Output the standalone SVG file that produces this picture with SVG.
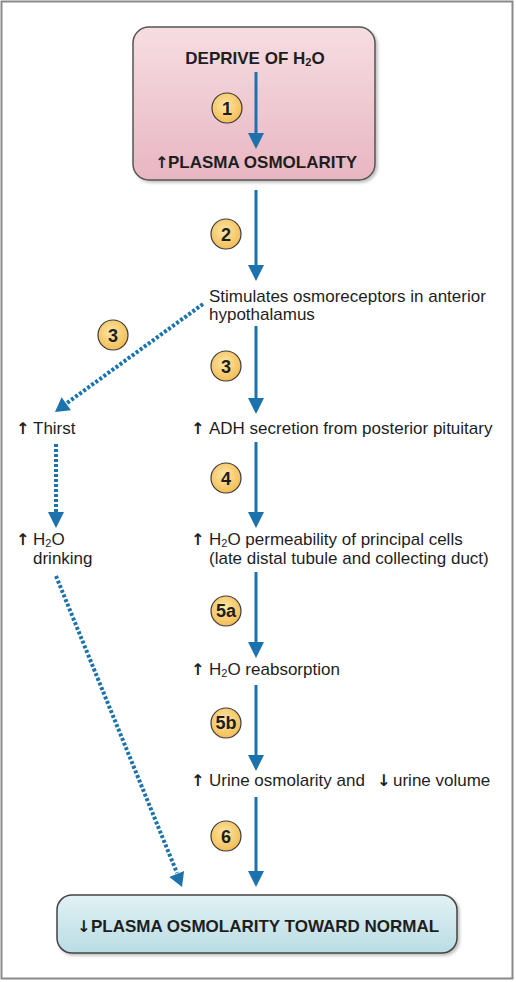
<svg xmlns="http://www.w3.org/2000/svg" width="516" height="982" viewBox="0 0 516 982">
<defs>
<linearGradient id="pink" x1="0" y1="0" x2="0" y2="1">
<stop offset="0" stop-color="#f6dde2"/><stop offset="1" stop-color="#e8b6c2"/>
</linearGradient>
<linearGradient id="teal" x1="0" y1="0" x2="0" y2="1">
<stop offset="0" stop-color="#e2f1f4"/><stop offset="1" stop-color="#b9dde4"/>
</linearGradient>
<radialGradient id="ball" cx="0.45" cy="0.4" r="0.6">
<stop offset="0" stop-color="#fde7a6"/><stop offset="1" stop-color="#f4bd55"/>
</radialGradient>
<filter id="sh" x="-5%" y="-5%" width="115%" height="120%">
<feDropShadow dx="2" dy="2" stdDeviation="1.5" flood-color="#000" flood-opacity="0.25"/>
</filter>
</defs>
<style>
.t{font-family:"Liberation Sans",Arial,sans-serif;font-size:17px;fill:#1e1e1e}
.b{font-family:"Liberation Sans",Arial,sans-serif;font-size:17px;font-weight:bold;fill:#1e1e1e}
.n{font-family:"Liberation Sans",Arial,sans-serif;font-size:18px;font-weight:bold;fill:#1e1e1e;text-anchor:middle}
.ar{font-family:"DejaVu Sans",sans-serif;font-size:16px;font-weight:bold;fill:#1e1e1e}
.solid{stroke:#1b72ad;stroke-width:3;fill:none}
.dot{stroke:#1b72ad;stroke-width:4;fill:none;stroke-dasharray:3 2}
.hd{fill:#1b72ad}
.c{fill:url(#ball);stroke:#3a3a3a;stroke-width:1.2}
</style>
<rect x="1.5" y="1.5" width="511" height="977" fill="#fff" stroke="#8a8a8a" stroke-width="2"/>

<g id="n1">
<rect x="133" y="27" width="242" height="153" rx="16" fill="url(#pink)" stroke="#555" stroke-width="1.5" filter="url(#sh)"/>
<text class="b" x="255" y="64" text-anchor="middle">DEPRIVE OF H<tspan font-size="11" dy="2">2</tspan><tspan dy="-2">O</tspan></text>
<text class="ar" x="155" y="168">↑</text>
<text class="b" x="168" y="168">PLASMA OSMOLARITY</text>
</g>

<g id="n2">
<text class="t" x="209" y="302">Stimulates osmoreceptors in anterior</text>
<text class="t" x="209" y="320">hypothalamus</text>
</g>

<g id="n3">
<text class="ar" x="16" y="434">↑</text>
<text class="t" x="33" y="434">Thirst</text>
</g>
<g id="n4">
<text class="ar" x="191" y="434">↑</text>
<text class="t" x="209" y="434">ADH secretion from posterior pituitary</text>
</g>

<g id="n5">
<text class="ar" x="16" y="545">↑</text>
<text class="t" x="33" y="545">H<tspan font-size="11" dy="2">2</tspan><tspan dy="-2">O</tspan></text>
<text class="t" x="33" y="564">drinking</text>
</g>
<g id="n6">
<text class="ar" x="191" y="545">↑</text>
<text class="t" x="209" y="545">H<tspan font-size="11" dy="2">2</tspan><tspan dy="-2">O permeability of principal cells</tspan></text>
<text class="t" x="209" y="564">(late distal tubule and collecting duct)</text>
</g>

<g id="n7">
<text class="ar" x="191" y="675">↑</text>
<text class="t" x="209" y="675">H<tspan font-size="11" dy="2">2</tspan><tspan dy="-2">O reabsorption</tspan></text>
</g>

<g id="n8">
<text class="ar" x="191" y="786">↑</text>
<text class="t" x="209" y="786">Urine osmolarity and</text>
<text class="ar" x="377" y="786">↓</text>
<text class="t" x="393" y="786">urine volume</text>
</g>

<g id="n9">
<rect x="57" y="895" width="400" height="58" rx="15" fill="url(#teal)" stroke="#444" stroke-width="1.5" filter="url(#sh)"/>
<text class="ar" x="77" y="932">↓</text>
<text class="b" x="91" y="932">PLASMA OSMOLARITY TOWARD NORMAL</text>
</g>

<g id="connectors">
<line class="solid" x1="256" y1="72" x2="256" y2="134"/>
<path class="hd" d="M248,133 L264,133 L256,149 Z"/>
<line class="solid" x1="256" y1="190" x2="256" y2="266"/>
<path class="hd" d="M248,265 L264,265 L256,281 Z"/>
<line class="solid" x1="256" y1="326" x2="256" y2="399"/>
<path class="hd" d="M248,398 L264,398 L256,414 Z"/>
<line class="solid" x1="256" y1="442" x2="256" y2="513"/>
<path class="hd" d="M248,512 L264,512 L256,528 Z"/>
<line class="solid" x1="256" y1="572" x2="256" y2="643"/>
<path class="hd" d="M248,642 L264,642 L256,658 Z"/>
<line class="solid" x1="256" y1="685" x2="256" y2="756"/>
<path class="hd" d="M248,755 L264,755 L256,771 Z"/>
<line class="solid" x1="256" y1="797" x2="256" y2="872"/>
<path class="hd" d="M248,871 L264,871 L256,887 Z"/>
<line class="dot" x1="203" y1="304" x2="67" y2="403"/>
<path class="hd" d="M55,412 L71,410.2 L61.6,397.2 Z"/>
<line class="dot" x1="56" y1="444" x2="56" y2="513"/>
<path class="hd" d="M48,512 L64,512 L56,528 Z"/>
<line class="dot" x1="56" y1="576" x2="177" y2="873"/>
<path class="hd" d="M182,887 L184.1,871 L169.3,877 Z"/>
</g>

<g id="b1"><circle class="c" cx="227" cy="108" r="15"/><text class="n" x="227" y="114.5">1</text></g>
<g id="b2"><circle class="c" cx="226" cy="234" r="15"/><text class="n" x="226" y="240.5">2</text></g>
<g id="b3l"><circle class="c" cx="113" cy="335" r="15"/><text class="n" x="113" y="341.5">3</text></g>
<g id="b3r"><circle class="c" cx="226" cy="366" r="15"/><text class="n" x="226" y="372.5">3</text></g>
<g id="b4"><circle class="c" cx="226" cy="478" r="15"/><text class="n" x="226" y="484.5">4</text></g>
<g id="b5a"><circle class="c" cx="226" cy="611" r="15"/><text class="n" x="226" y="617" font-size="16">5a</text></g>
<g id="b5b"><circle class="c" cx="226" cy="723" r="15"/><text class="n" x="226" y="729" font-size="16">5b</text></g>
<g id="b6"><circle class="c" cx="226" cy="836" r="15"/><text class="n" x="226" y="842.5">6</text></g>
</svg>
